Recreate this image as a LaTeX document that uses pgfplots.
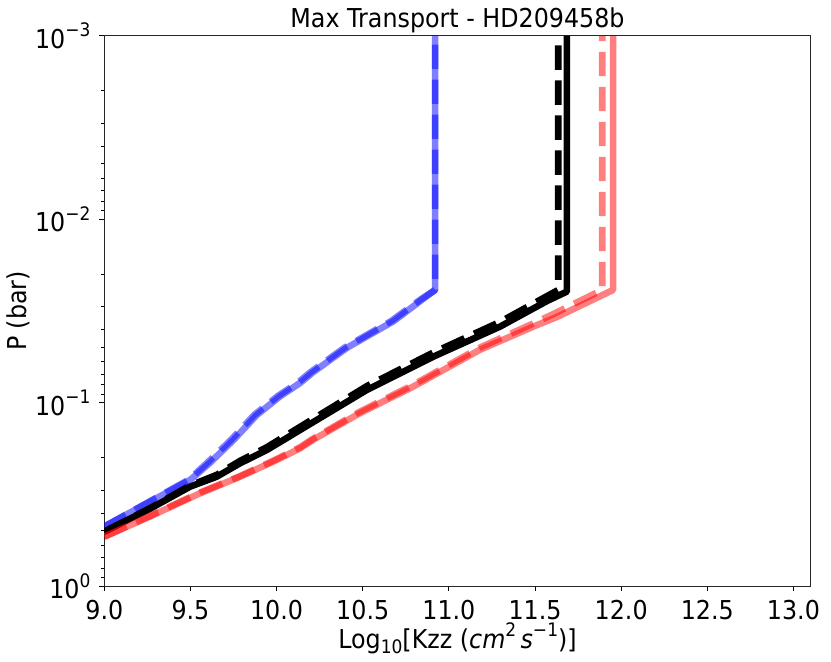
\documentclass[border=0pt]{standalone}
\usepackage{fontspec}
\setmainfont[FakeStretch=0.915]{DejaVu Sans}
\usepackage{pgfplots}
\pgfplotsset{compat=1.18}

% small raised / lowered text, matplotlib mathtext style
\newcommand{\sups}[1]{\raisebox{0.45em}{\fontsize{9.3}{9.3}\selectfont #1}}
\newcommand{\subs}[1]{\raisebox{-0.22em}{\fontsize{9.3}{9.3}\selectfont #1}}

\begin{document}
\fontsize{13}{15.6}\selectfont
\begin{tikzpicture}
\begin{axis}[
    scale only axis,
    width=353.2pt,
    height=275.25pt,
    xmin=9, xmax=13.1,
    ymin=1e-3, ymax=1,
    ymode=log,
    y dir=reverse,
    xtick={9,9.5,10,10.5,11,11.5,12,12.5,13},
    xticklabel={\pgfmathprintnumber[fixed,fixed zerofill,precision=1,assume math mode=true]{\tick}},
    ytick={1e-3,1e-2,1e-1,1},
    yticklabels={10\sups{−3},10\sups{−2},10\sups{−1},10\sups{0}},
    tick align=outside,
    tick pos=left,
    major tick length=2.4pt,
    minor tick length=1.4pt,
    every tick/.style={black, line width=0.5pt},
    axis line style={black!85, line width=0.55pt},
    xlabel={Log\subs{10}[Kzz (\textit{cm}\sups{2}\,\textit{s}\sups{−1})]},
    xlabel style={at={(axis description cs:0.5,0)}, anchor=base, yshift=-31pt, inner sep=0pt},
    ylabel={P (bar)},
    ylabel style={at={(axis description cs:0,0.5)}, anchor=center, yshift=43pt, inner sep=0pt},
    every axis plot/.append style={line width=3.3pt, line join=round},
]
\coordinate (bl) at (axis description cs:0,0);
\coordinate (tc) at (axis description cs:0.5,1);

% blue
\addplot[color=blue, opacity=0.5] coordinates {
    (9.00, 0.4732) (9.50, 0.2630) (9.61, 0.2138) (9.75, 0.1596)
    (9.885, 0.1167) (10.02, 0.0923) (10.14, 0.0776) (10.21, 0.0684)
    (10.41, 0.0501) (10.68, 0.0359) (10.85, 0.0272) (10.92, 0.0243)
    (10.92, 0.001)
};
\addplot[color=blue, opacity=0.5, dash pattern=on 12.2pt off 5.3pt] coordinates {
    (9.00, 0.4732) (9.49, 0.2630) (9.595, 0.2138) (9.735, 0.1596)
    (9.87, 0.1167) (10.005, 0.0923) (10.125, 0.0776) (10.195, 0.0684)
    (10.395, 0.0501) (10.665, 0.0359) (10.84, 0.0272) (10.92, 0.0243)
    (10.92, 0.001)
};

% black
\addplot[color=black] coordinates {
    (9.00, 0.5047) (9.265, 0.3784) (9.497, 0.2871) (9.653, 0.2529)
    (9.788, 0.2138) (9.943, 0.1811) (10.136, 0.1409)
    (10.523, 0.0853) (10.910, 0.0561) (11.297, 0.0385) (11.57, 0.0279)
    (11.685, 0.0248) (11.685, 0.001)
};
\addplot[color=black, dash pattern=on 12.2pt off 5.3pt] coordinates {
    (9.00, 0.5047) (9.265, 0.3758) (9.497, 0.2831) (9.653, 0.2472)
    (9.788, 0.2075) (9.943, 0.1750) (10.136, 0.1355)
    (10.523, 0.0813) (10.910, 0.0533) (11.297, 0.0363) (11.50, 0.0285)
    (11.635, 0.0243) (11.635, 0.001)
};

% red
\addplot[color=red, opacity=0.5] coordinates {
    (9.00, 0.5370) (9.265, 0.4169) (9.555, 0.3119) (9.788, 0.2529)
    (9.981, 0.2094) (10.136, 0.1774) (10.21, 0.1596) (10.485, 0.1138)
    (10.79, 0.0820) (11.18, 0.0515) (11.49, 0.0385) (11.627, 0.0341)
    (11.953, 0.0243) (11.953, 0.001)
};
\addplot[color=red, opacity=0.5, dash pattern=on 12.2pt off 5.3pt] coordinates {
    (9.00, 0.5370) (9.265, 0.4140) (9.555, 0.3090) (9.788, 0.2512)
    (9.981, 0.2070) (10.136, 0.1750) (10.21, 0.1574) (10.485, 0.1117)
    (10.79, 0.0802) (11.18, 0.0501) (11.49, 0.0370) (11.60, 0.0331)
    (11.89, 0.0243) (11.89, 0.001)
};
\end{axis}
\node[anchor=base, inner sep=0pt] at ([yshift=3.9pt]tc) {Max Transport - HD209458b};
\pgfresetboundingbox
\path (bl) ++(-52.15pt,-37.4pt) rectangle ++(415.5pt,330.5pt);
\end{tikzpicture}
\end{document}
